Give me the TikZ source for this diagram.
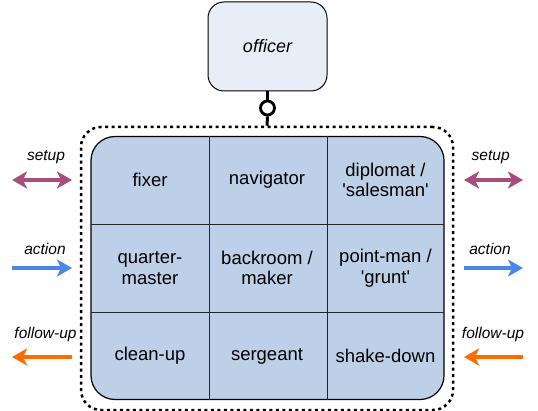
\documentclass[tikz,border=0pt]{standalone}
\usepackage{fontspec}
\setmainfont{Liberation Sans}
\usetikzlibrary{arrows.meta}
\definecolor{gridfill}{HTML}{BDD0E8}
\definecolor{offfill}{HTML}{E8EEF8}
\definecolor{setupc}{HTML}{A64D79}
\definecolor{actionc}{HTML}{4A86E8}
\definecolor{followc}{HTML}{FF6D01}
\tikzset{
  cell/.style={align=center, font=\fontsize{18.5}{20.5}\selectfont, inner sep=0pt},
  lbl/.style={font=\fontsize{15.5}{17}\selectfont\itshape, inner sep=0pt, anchor=base},
  flow/.style={line width=3.5pt, -{Stealth[length=15pt,width=17pt,inset=4pt]}},
  flowboth/.style={line width=3.5pt, {Stealth[length=15pt,width=17pt,inset=4pt]}-{Stealth[length=15pt,width=17pt,inset=4pt]}},
}
\begin{document}
\begin{tikzpicture}[x=1pt,y=-1pt]
\useasboundingbox (0,0) rectangle (538,411);
% outer dotted group
\node[draw, line width=2.5pt, dash pattern=on 3pt off 3.5pt, rounded corners=20pt,
  minimum width=372pt, minimum height=283pt, inner sep=0pt] (group) at (267,268.5) {};
% grid
\node[draw=black, fill=gridfill, line width=1.2pt, rounded corners=24pt,
  minimum width=353pt, minimum height=263pt, inner sep=0pt] (grid) at (267.5,268) {};
\draw[line width=0.8pt, black!85] (209,136.5) -- (209,399.5);
\draw[line width=0.8pt, black!85] (327,136.5) -- (327,399.5);
\draw[line width=0.8pt, black!85] (91,224) -- (444,224);
\draw[line width=0.8pt, black!85] (91,312) -- (444,312);
% cells
\node[cell] (c11) at (150,180) {fixer};
\node[cell] (c12) at (267,180) {navigator};
\node[cell] (c13) at (385.5,180) {diplomat /\\\textquotesingle salesman\textquotesingle};
\node[cell] (c21) at (150,268) {quarter-\\master};
\node[cell] (c22) at (267,268) {backroom /\\maker};
\node[cell] (c23) at (385.5,268) {point-man /\\\textquotesingle grunt\textquotesingle};
\node[cell] (c31) at (150,356) {clean-up};
\node[cell] (c32) at (267,356) {sergeant};
\node[cell] (c33) at (385.5,356) {shake-down};
% officer
\node[draw=black, fill=offfill, line width=1pt, rounded corners=16pt,
  minimum width=119pt, minimum height=89pt, inner sep=0pt,
  font=\fontsize{18}{20}\selectfont\itshape] (officer) at (267.5,46.5) {officer};
\node[circle, draw=black, line width=2.8pt, fill=white, minimum size=14pt, inner sep=0pt] (lolly) at (267.5,108) {};
\draw[line width=3pt] (officer.south) -- (lolly.north);
\draw[line width=3pt] (lolly.south) -- (group.north);
% left arrows
\coordinate (ls1) at (12,180); \coordinate (le1) at (72,180);
\coordinate (ls2) at (12,268); \coordinate (le2) at (72,268);
\coordinate (ls3) at (12,357); \coordinate (le3) at (72,357);
\draw[flowboth, setupc] (ls1) -- (le1);
\draw[flow, actionc] (ls2) -- (le2);
\draw[flow, followc] (le3) -- (ls3);
\node[lbl] (lsetup) at (46,160.5) {setup};
\node[lbl] (laction) at (45,254.5) {action};
\node[lbl] (lfollow) at (45.5,339) {follow-up};
% right arrows
\coordinate (rs1) at (464,180); \coordinate (re1) at (523,180);
\coordinate (rs2) at (464,268); \coordinate (re2) at (523,268);
\coordinate (rs3) at (464,357); \coordinate (re3) at (523,357);
\draw[flowboth, setupc] (rs1) -- (re1);
\draw[flow, actionc] (rs2) -- (re2);
\draw[flow, followc] (re3) -- (rs3);
\node[lbl] (rsetup) at (490.7,160.5) {setup};
\node[lbl] (raction) at (490,254.5) {action};
\node[lbl] (rfollow) at (493,339) {follow-up};
\end{tikzpicture}
\end{document}
